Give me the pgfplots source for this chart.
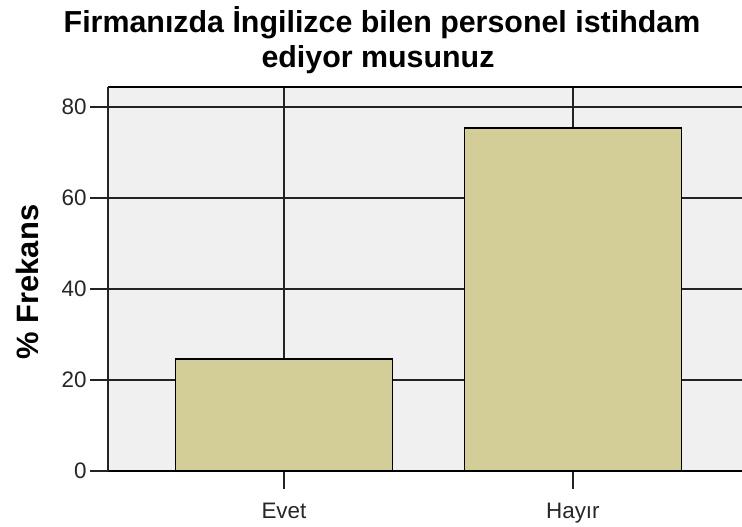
\documentclass[border=0pt]{standalone}
\usepackage{pgfplots}
\pgfplotsset{compat=1.18}
\usepackage{fontspec}
\setmainfont{Liberation Sans}
\definecolor{bg}{RGB}{240,240,240}
\definecolor{barc}{RGB}{211,206,151}
\definecolor{gridc}{RGB}{35,35,35}
\begin{document}
\begin{tikzpicture}[x=1bp,y=1bp]
\useasboundingbox (0,0) rectangle (742,527);
\begin{axis}[
  at={(108bp,56bp)}, anchor=south west,
  scale only axis, width=640bp, height=384bp,
  xmin=-0.609, xmax=1.606, ymin=0, ymax=84.4,
  xtick={0,1}, xticklabels={Evet,Hayır},
  ytick={0,20,40,60,80},
  /pgf/number format/assume math mode=true,
  ticklabel style={font=\fontsize{22.5}{26}\selectfont, text=black!85},
  xticklabel style={yshift=-11bp},
  yticklabel style={xshift=0bp},
  grid=major,
  major grid style={gridc, line width=1.6bp},
  axis background/.style={fill=bg},
  tick align=outside, major tick length=18bp,
  major tick style={gridc, line width=1.6bp},
  xtick pos=bottom, ytick pos=left,
  separate axis lines,
  x axis line style={black, line width=2bp},
  y axis line style={gridc, line width=1.6bp},
  axis x line*=box,
]
\addplot[ybar, bar width=0.75, fill=barc, draw=black, line width=1.4bp] coordinates {(0,24.6) (1,75.4)};
\end{axis}
\node[anchor=base, font=\fontsize{30.5}{36}\bfseries\selectfont] at (382,494) {Firmanızda İngilizce bilen personel istihdam};
\node[anchor=base, font=\fontsize{30.5}{36}\bfseries\selectfont] at (378,459) {ediyor musunuz};
\node[font=\fontsize{31}{36}\bfseries\selectfont, rotate=90] at (27,245) {\% Frekans};
\end{tikzpicture}
\end{document}
